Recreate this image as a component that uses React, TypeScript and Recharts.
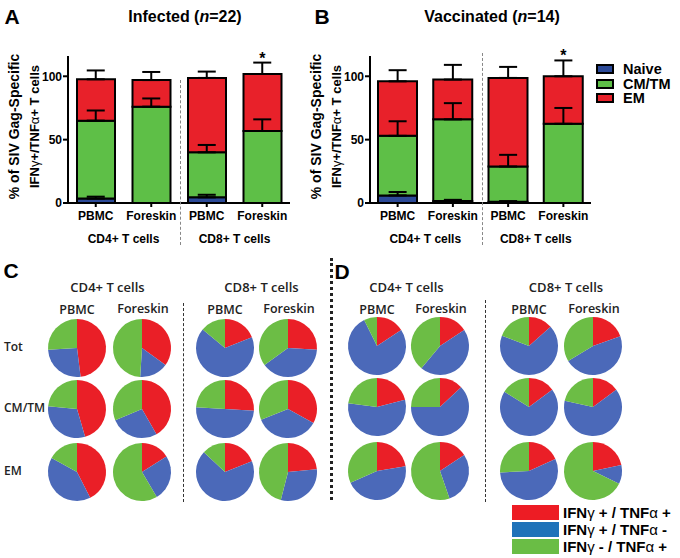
import React from "react";
import {
  Bar,
  Cell,
  ComposedChart,
  ErrorBar,
  LabelList,
  Legend,
  Line,
  Pie,
  PieChart,
  XAxis,
  YAxis,
} from "recharts";

// ---- bar panels (A, B) ----
const categories = ["PBMC", "Foreskin", "PBMC", "Foreskin"];
const cellGroups = ["CD4+ T cells", "CD8+ T cells"];
const yTicks = [0, 50, 100];
const subsetNames = ["Naive", "CM/TM", "EM"];

// A: infected (n=22)
const infNaive = [3.5, 0, 4.5, 0];
const infNaiveErr = [1.5, 0, 2, 0];
const infCm = [61.5, 76, 35.5, 56.8];
const infCmErr = [8, 6.5, 5.8, 9.2];
const infEm = [32.6, 21, 58.7, 45];
const infEmErr = [7, 6.4, 5, 9];
const infStar = [false, false, false, true];

// B: vaccinated (n=14)
const vacNaive = [6, 1.5, 1, 0];
const vacNaiveErr = [2.7, 1, 0.5, 0];
const vacCm = [47, 64.5, 27.8, 62.5];
const vacCmErr = [11.5, 12.8, 9.2, 12.5];
const vacEm = [43, 31.4, 69.9, 37.5];
const vacEmErr = [8.8, 11.6, 8.7, 12.5];
const vacStar = [false, false, false, true];

// ---- pie panels (C, D): [IFNg+/TNFa+, IFNg+/TNFa-, IFNg-/TNFa+] in %
// columns: CD4 PBMC, CD4 Foreskin, CD8 PBMC, CD8 Foreskin
const pieRows = ["Tot", "CM/TM", "EM"];
const infTot = [[48, 26, 26], [35, 16, 49], [19, 67, 14], [26, 39, 35]];
const infCmPie = [[45.5, 31, 23.5], [41.7, 27, 31.3], [26, 50, 24], [33, 36, 31]];
const infEmPie = [[42.5, 40.5, 17], [16, 25.5, 58.5], [19, 68, 13], [23.5, 30.5, 46]];
const vacTot = [[15.7, 77, 7.3], [15.7, 45.4, 38.9], [13.4, 67.4, 19.2], [19.6, 46.8, 33.6]];
const vacCmPie = [[21, 56, 23], [13, 62, 25], [14.8, 69, 16.2], [14.8, 63.6, 21.6]];
const vacEmPie = [[22.4, 46, 31.6], [15.7, 29, 55.3], [18.2, 56, 25.8], [21.7, 10.5, 67.8]];
const cytoNames = ["IFNγ + / TNFα +", "IFNγ + / TNFα -", "IFNγ - / TNFα +"];

const ARIAL = "'Liberation Sans', Arial, sans-serif";
const SANS = "'Open Sans', 'Noto Sans', sans-serif";
const BAR_COLORS = ["#2c4a98", "#5ebf47", "#e8212a"];
const PIE_COLORS = ["#ea1f27", "#4b69b9", "#6cbd45"];
const KEY_COLORS = ["#ed1c24", "#1f72b9", "#6abd45"];

const Y_MAX = 116;
const PLOT_TOP = 56;
const PLOT_H = 147;
const PX_PER_UNIT = PLOT_H / Y_MAX;

function buildRows(naive, naiveErr, cm, cmErr, em, emErr, star) {
  return categories.map((cat, i) => ({
    id: i,
    cat,
    naive: naive[i],
    cm: cm[i],
    em: em[i],
    naiveTop: naive[i],
    cmTop: naive[i] + cm[i],
    emTop: naive[i] + cm[i] + em[i],
    naiveErr: [0, naiveErr[i]],
    cmErr: [0, cmErr[i]],
    emErr: [0, emErr[i]],
    star: star[i],
  }));
}

const infRows = buildRows(infNaive, infNaiveErr, infCm, infCmErr, infEm, infEmErr, infStar);
const vacRows = buildRows(vacNaive, vacNaiveErr, vacCm, vacCmErr, vacEm, vacEmErr, vacStar);

const greekSvg = (s: string) =>
  s.split(/([γα])/).map((p, i) =>
    /[γα]/.test(p) ? (
      <tspan key={i} fontWeight={400}>{p}</tspan>
    ) : (
      <tspan key={i}>{p}</tspan>
    )
  );

const greekHtml = (s: string) =>
  s.split(/([γα])/).map((p, i) =>
    /[γα]/.test(p) ? (
      <span key={i} style={{ fontWeight: 400 }}>{p}</span>
    ) : (
      <span key={i}>{p}</span>
    )
  );

function Txt({ x, y, children, size = 12, weight = 700, family = ARIAL, anchor = "middle", color = "#000" }: any) {
  return (
    <div
      style={{
        position: "absolute",
        left: x,
        top: y,
        transform: `translate(${anchor === "middle" ? "-50%" : "0"}, -50%)`,
        fontSize: size,
        fontWeight: weight,
        fontFamily: family,
        color,
        whiteSpace: "nowrap",
        lineHeight: 1,
      }}
    >
      {children}
    </div>
  );
}

function VLine({ x, y1, y2, w = 1, style = "dashed", color = "#888" }: any) {
  return (
    <div
      style={{
        position: "absolute",
        left: x,
        top: y1,
        height: y2 - y1,
        borderLeft: `${w}px ${style} ${color}`,
      }}
    />
  );
}

function CatTick(props: any) {
  const { x, y, payload } = props;
  const i = payload.index ?? payload.value;
  const half = payload.offset || 27.7;
  return (
    <g>
      <text x={x} y={y + 7} textAnchor="middle" dominantBaseline="central" fontSize={12} fontWeight={700} fill="#000">
        {categories[i]}
      </text>
      {i % 2 === 0 && (
        <text x={x + half} y={y + 30} textAnchor="middle" dominantBaseline="central" fontSize={12} fontWeight={700} fill="#000">
          {cellGroups[i / 2]}
        </text>
      )}
    </g>
  );
}

function YLab(props: any) {
  const vb = props.viewBox || { x: 0, y: PLOT_TOP, width: 68, height: PLOT_H };
  const cy = vb.y + vb.height / 2 - 3;
  const x1 = vb.x + 14;
  const x2 = vb.x + 34;
  return (
    <g>
      <text x={x1} y={cy} transform={`rotate(-90, ${x1}, ${cy})`} textAnchor="middle" dominantBaseline="central" fontSize={14} fontWeight={700} fill="#000">
        % of SIV Gag-Specific
      </text>
      <text x={x2} y={cy} transform={`rotate(-90, ${x2}, ${cy})`} textAnchor="middle" dominantBaseline="central" fontSize={13} fontWeight={700} fill="#000">
        {greekSvg("IFNγ+/TNFα+ T cells")}
      </text>
    </g>
  );
}

function BarKey() {
  return (
    <div style={{ fontFamily: ARIAL }}>
      {subsetNames.map((n, i) => (
        <div key={n} style={{ display: "flex", alignItems: "center", height: 14.5 }}>
          <div style={{ width: 14, height: 6, background: BAR_COLORS[i], border: "2px solid #000", marginRight: 9 }} />
          <span style={{ fontSize: 14.5, fontWeight: 700, lineHeight: 1 }}>{n}</span>
        </div>
      ))}
    </div>
  );
}

function PieKey() {
  return (
    <div style={{ fontFamily: ARIAL }}>
      {cytoNames.map((n, i) => (
        <div key={n} style={{ display: "flex", alignItems: "center", height: 17 }}>
          <div style={{ width: 47, height: 15, background: KEY_COLORS[i], marginRight: 4 }} />
          <span style={{ fontSize: 15, fontWeight: 700, lineHeight: 1 }}>{greekHtml(n)}</span>
        </div>
      ))}
    </div>
  );
}

function StackPanel({ rows, left, width, marginRight, barSize, legend }: any) {
  const axisStyle = { stroke: "#000", strokeWidth: 2 };
  const star = (p: any) => {
    const r = rows[p.index];
    if (!r || !r.star) return null;
    const top = p.y - r.emErr[1] * PX_PER_UNIT;
    return (
      <text x={p.x} y={top + 1} textAnchor="middle" fontSize={16} fontWeight={700} fill="#000">
        *
      </text>
    );
  };
  return (
    <div style={{ position: "absolute", left, top: 0 }}>
      <ComposedChart
        width={width}
        height={260}
        data={rows}
        margin={{ top: PLOT_TOP, right: marginRight, bottom: 7, left: 0 }}
        style={{ fontFamily: ARIAL }}
      >
        <XAxis
          dataKey="id"
          type="category"
          height={50}
          interval={0}
          axisLine={axisStyle}
          tickLine={axisStyle}
          tickSize={4}
          tick={<CatTick />}
        />
        <YAxis
          type="number"
          width={68}
          domain={[0, Y_MAX]}
          ticks={yTicks}
          allowDataOverflow
          axisLine={axisStyle}
          tickLine={axisStyle}
          tickSize={5}
          tickMargin={1}
          tick={{ fill: "#000", fontSize: 12, fontWeight: 700 }}
          label={<YLab />}
        />
        <Bar dataKey="naive" stackId="s" barSize={barSize} fill={BAR_COLORS[0]} stroke="#000" strokeWidth={2} isAnimationActive={false} />
        <Bar dataKey="cm" stackId="s" barSize={barSize} fill={BAR_COLORS[1]} stroke="#000" strokeWidth={2} isAnimationActive={false} />
        <Bar dataKey="em" stackId="s" barSize={barSize} fill={BAR_COLORS[2]} stroke="#000" strokeWidth={2} isAnimationActive={false} />
        <Line dataKey="naiveTop" stroke="none" dot={false} activeDot={false} legendType="none" isAnimationActive={false}>
          <ErrorBar dataKey="naiveErr" direction="y" width={9} stroke="#000" strokeWidth={2} isAnimationActive={false} />
        </Line>
        <Line dataKey="cmTop" stroke="none" dot={false} activeDot={false} legendType="none" isAnimationActive={false}>
          <ErrorBar dataKey="cmErr" direction="y" width={9} stroke="#000" strokeWidth={2} isAnimationActive={false} />
        </Line>
        <Line dataKey="emTop" stroke="none" dot={false} activeDot={false} legendType="none" isAnimationActive={false}>
          <ErrorBar dataKey="emErr" direction="y" width={9} stroke="#000" strokeWidth={2} isAnimationActive={false} />
          <LabelList dataKey="emTop" content={star} />
        </Line>
        {legend && (
          <Legend
            layout="horizontal"
            verticalAlign="middle"
            align="center"
            wrapperStyle={{ left: 294, top: 62, width: 90 }}
            content={() => <BarKey />}
          />
        )}
      </ComposedChart>
    </div>
  );
}

function PiePanel({ left, width, height, cols, rows, sets, legend }: any) {
  return (
    <div style={{ position: "absolute", left, top: 300 }}>
      <PieChart width={width} height={height} margin={{ top: 0, right: 0, bottom: 0, left: 0 }}>
        {sets.map((set: number[][], r: number) =>
          set.map((vals: number[], c: number) => (
            <Pie
              key={`${r}-${c}`}
              data={vals.map((v, k) => ({ name: cytoNames[k], value: v }))}
              dataKey="value"
              cx={cols[c] - left}
              cy={rows[r] - 300}
              outerRadius={29}
              startAngle={90}
              endAngle={-270}
              stroke="none"
              isAnimationActive={false}
            >
              {vals.map((_, k) => (
                <Cell key={k} fill={PIE_COLORS[k]} />
              ))}
            </Pie>
          ))
        )}
        {legend && (
          <Legend
            layout="horizontal"
            verticalAlign="middle"
            align="center"
            wrapperStyle={{ left: 182, top: 204, width: 168 }}
            content={() => <PieKey />}
          />
        )}
      </PieChart>
    </div>
  );
}

const colsC = [77, 142, 225, 288];
const rowsC = [348, 409, 472];
const colsD = [377, 440, 529, 593];
const rowsD = [346, 407, 471];

export default function App() {
  return (
    <div style={{ position: "absolute", left: 0, top: 0, width: 680, height: 558, background: "#fff", overflow: "hidden" }}>
      {/* panel letters and titles */}
      <Txt x={12} y={16} size={21}>A</Txt>
      <Txt x={322} y={16} size={21}>B</Txt>
      <Txt x={11} y={270} size={21}>C</Txt>
      <Txt x={342} y={271} size={21}>D</Txt>
      <Txt x={185} y={17} size={16}>
        Infected (<i>n</i>=22)
      </Txt>
      <Txt x={492} y={17} size={16}>
        Vaccinated (<i>n</i>=14)
      </Txt>

      <StackPanel rows={infRows} left={0} width={300} marginRight={10} barSize={38} />
      <StackPanel rows={vacRows} left={302} width={378} marginRight={89} barSize={39} legend />

      <VLine x={180} y1={80} y2={245} />
      <VLine x={482} y1={53} y2={245} />

      {/* pie headers */}
      {[colsC, colsD].map((cols, p) => (
        <React.Fragment key={p}>
          <Txt x={(cols[0] + cols[1]) / 2 - 2} y={287} size={13} weight={600} family={SANS} color="#222">
            {cellGroups[0]}
          </Txt>
          <Txt x={(cols[2] + cols[3]) / 2 + 5} y={287} size={13} weight={600} family={SANS} color="#222">
            {cellGroups[1]}
          </Txt>
          {cols.map((cx, i) => (
            <Txt key={i} x={cx + (i % 2 ? 1 : 0)} y={i % 2 ? 309 : 310} size={12.5} weight={600} family={SANS} color="#222">
              {categories[i]}
            </Txt>
          ))}
        </React.Fragment>
      ))}
      {pieRows.map((r, i) => (
        <Txt key={r} x={4} y={rowsC[i] - 1} size={12} weight={600} family={SANS} anchor="start" color="#222">
          {r}
        </Txt>
      ))}

      <PiePanel left={0} width={330} height={210} cols={colsC} rows={rowsC} sets={[infTot, infCmPie, infEmPie]} />
      <PiePanel left={330} width={350} height={258} cols={colsD} rows={rowsD} sets={[vacTot, vacCmPie, vacEmPie]} legend />

      <VLine x={183} y1={303} y2={502} w={1.5} color="#333" />
      <VLine x={485} y1={300} y2={502} w={1.5} color="#333" />
      <VLine x={330} y1={258} y2={500} w={3} style="dotted" color="#222" />
    </div>
  );
}
